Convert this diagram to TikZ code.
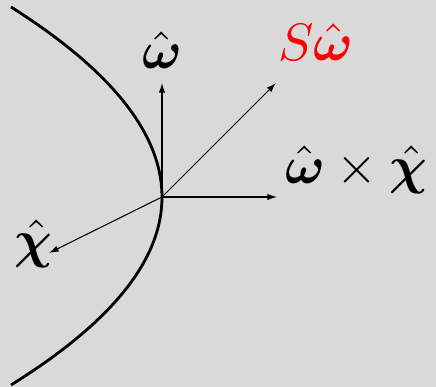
\documentclass[tikz,border=0pt]{standalone}
\usepackage{amsmath,bm}
\usepackage{tikz}
\usetikzlibrary{arrows.meta,positioning}
\definecolor{ScatGray}{HTML}{D9D9D9}
\definecolor{ScatRed}{HTML}{FF0000}
\definecolor{ScatInk}{HTML}{000000}
\tikzset{
  veclabel/.style={scale=3.0, text=ScatInk, inner sep=0pt},
  vecarrow/.style={-{Latex[length=5.5pt,width=3.6pt]}, line width=0.6pt, draw=ScatInk},
  surfline/.style={line width=1.6pt, draw=ScatInk}
}

\begin{document}
\begin{tikzpicture}
\fill[ScatGray] (-3.24,3.94) rectangle (5.48,-3.80);
\useasboundingbox (-3.24,3.94) rectangle (5.48,-3.80);
\coordinate (orig) at (0,0);
\coordinate (top) at (-3.02,3.80);
\coordinate (bot) at (-3.02,-3.76);
\coordinate (wtip) at (0,2.28);
\coordinate (swtip) at (2.28,2.28);
\coordinate (wxtip) at (2.30,0);
\coordinate (xtip) at (-2.26,-1.12);
\draw[surfline] (top) .. controls (-1.007,2.527) and (0,1.26) .. (orig)
  .. controls (0,-1.26) and (-1.007,-2.507) .. (bot);
\node[veclabel, above=0.26cm of wtip] (w) {$\hat{\bm{\omega}}$};
\node[veclabel, text=ScatRed, above right=0.42cm and 0.02cm of swtip] (sw) {$S\hat{\bm{\omega}}$};
\node[veclabel, above right=0.04cm and 0.14cm of wxtip] (wx) {$\hat{\bm{\omega}}\times\hat{\bm{\chi}}$};
\node[veclabel, left=-0.08cm of xtip, yshift=0.06cm] (x) {$\hat{\bm{\chi}}$};
\draw[vecarrow] (orig) -- (wtip);
\draw[vecarrow] (orig) -- (swtip);
\draw[vecarrow] (orig) -- (wxtip);
\draw[vecarrow] (orig) -- (xtip);
\end{tikzpicture}
\end{document}
